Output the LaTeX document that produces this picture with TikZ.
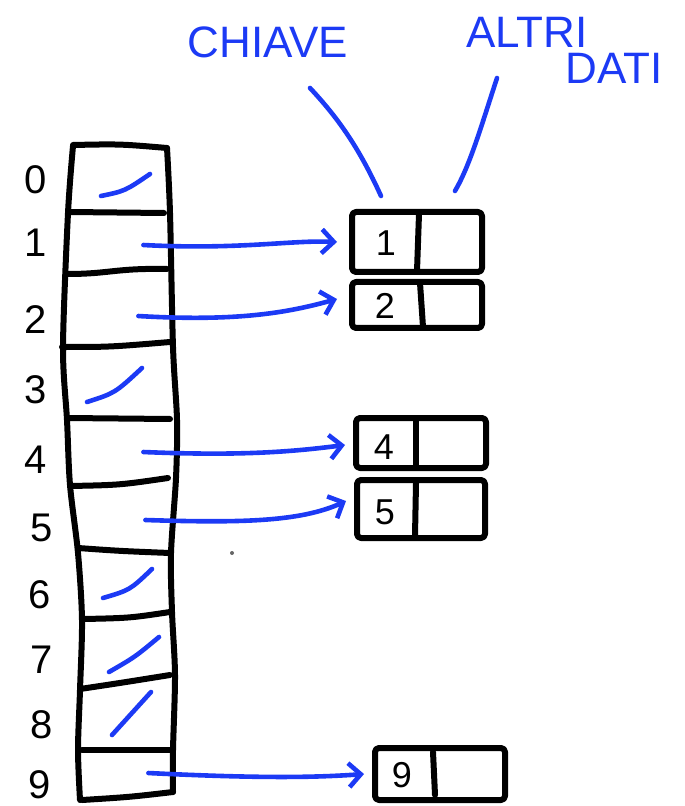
\documentclass[tikz,border=0pt]{standalone}
\usepackage{fontspec}
\setmainfont{Liberation Sans}
\usetikzlibrary{arrows.meta}
\definecolor{pen}{RGB}{28,58,245}
\tikzset{
  ink/.style={line width=3pt, line cap=round, line join=round, black},
  blueink/.style={line width=2.3pt, line cap=round, line join=round, pen},
  arr/.style={blueink, -{Straight Barb[length=6pt, width=12pt, line width=2.3pt]}},
  idx/.style={font=\fontsize{20}{20}\selectfont, anchor=center},
  keytxt/.style={font=\fontsize{18}{18}\selectfont, anchor=center},
  lbl/.style={font=\fontsize{22}{22}\selectfont, text=pen, anchor=center},
  anchorpt/.style={inner sep=0pt, minimum size=0pt},
  rec/.style={draw, ink, rounded corners=2pt, inner sep=0pt},
}
\begin{document}
\begin{tikzpicture}[x=0.5pt, y=-0.5pt]
\useasboundingbox (0,0) rectangle (684,806);
% column edges
\draw[ink] plot[smooth, tension=0.5] coordinates {(73,146) (68,213) (63,347) (67,420) (70,485) (78,553) (82,620) (80,690) (78,750) (80,800)};
\draw[ink] plot[smooth, tension=0.5] coordinates {(167,148) (170,213) (173,347) (177,420) (176,478) (171,553) (172,612) (175,675) (173,750) (173,792)};
% row separators
\draw[ink] (73,145) .. controls (120,144) .. (167,148);
\draw[ink] (69,212) -- (164,213);
\draw[ink] (67,274) .. controls (110,274) and (115,268) .. (167,269);
\draw[ink] (62,347) .. controls (110,347) .. (170,342);
\draw[ink] (67,418) -- (170,419);
\draw[ink] (70,486) .. controls (120,485) .. (168,478);
\draw[ink] (78,548) .. controls (120,551) .. (170,553);
\draw[ink] (84,619) .. controls (130,618) .. (170,612);
\draw[ink] (80,689) .. controls (120,683) .. (170,675);
\draw[ink] (82,750) -- (170,750);
\draw[ink] (82,800) .. controls (130,797) .. (173,792);
% row numbers
\node[idx] (n0) at (36,180) {0};
\node[idx] (n1) at (36,243) {1};
\node[idx] (n2) at (36,320) {2};
\node[idx] (n3) at (36,390) {3};
\node[idx] (n4) at (36,460) {4};
\node[idx] (n5) at (42,528) {5};
\node[idx] (n6) at (40,595) {6};
\node[idx] (n7) at (42,660) {7};
\node[idx] (n8) at (42,725) {8};
\node[idx] (n9) at (40,785) {9};
% empty-slot slashes
\draw[blueink] (101,196) .. controls (125,191) .. (150,174);
\draw[blueink] (87,402) .. controls (115,393) .. (142,368);
\draw[blueink] (103,598) .. controls (130,590) .. (152,569);
\draw[blueink] (109,672) .. controls (135,657) .. (159,637);
\draw[blueink] (112,735) -- (151,692);
% records
\node[rec, minimum width=65pt, minimum height=30pt] (b1) at (417,242) {};
\draw[ink] (419,214) -- (417,271);
\node[keytxt] (k1) at (386,243) {1};
\node[rec, minimum width=65pt, minimum height=23pt] (b2) at (417,305) {};
\draw[ink] (420,283) -- (423,327);
\node[keytxt] (k2) at (385,306) {2};
\node[rec, minimum width=65pt, minimum height=25pt] (b4) at (421,443) {};
\draw[ink] (416,420) -- (416,466);
\node[keytxt] (k4) at (384,447) {4};
\node[rec, minimum width=64pt, minimum height=29pt] (b5) at (421,509) {};
\draw[ink] (416,483) -- (415,536);
\node[keytxt] (k5) at (385,512) {5};
\node[rec, minimum width=65pt, minimum height=26pt] (b9) at (440,774) {};
\draw[ink] (433,752) -- (435,795);
\node[keytxt] (k9) at (402,775) {9};
% slot anchors
\node[anchorpt] (r1) at (143,245) {};
\node[anchorpt] (r2) at (138,316) {};
\node[anchorpt] (r4) at (143,452) {};
\node[anchorpt] (r5) at (145,520) {};
\node[anchorpt] (r9) at (148,773) {};
% pointers
\draw[arr] (r1) .. controls (240,250) and (290,240) .. ([xshift=-6pt]b1.west);
\draw[arr] (r2) .. controls (240,322) and (290,312) .. ([xshift=-6pt,yshift=3pt]b2.west);
\draw[arr] (r4) .. controls (240,456) and (290,452) .. ([xshift=-4pt,yshift=-1pt]b4.west);
\draw[arr] (r5) .. controls (240,523) and (300,522) .. ([xshift=-4pt,yshift=4pt]b5.west);
\draw[arr] (r9) .. controls (250,778) and (310,778) .. ([xshift=-4pt]b9.west);
% labels
\node[lbl] (chiave) at (268,42) {CHIAVE};
\node[lbl] (altri) at (527,32) {ALTRI};
\node[lbl] (dati) at (614,68) {DATI};
\coordinate (ck) at (381,196);
\coordinate (cd) at (455,191);
\draw[blueink] (310,88) .. controls (340,120) and (360,150) .. (ck);
\draw[blueink] (497,78) .. controls (480,130) and (470,165) .. (cd);
\fill[black!60] (232,553) circle (1pt);
\end{tikzpicture}
\end{document}
